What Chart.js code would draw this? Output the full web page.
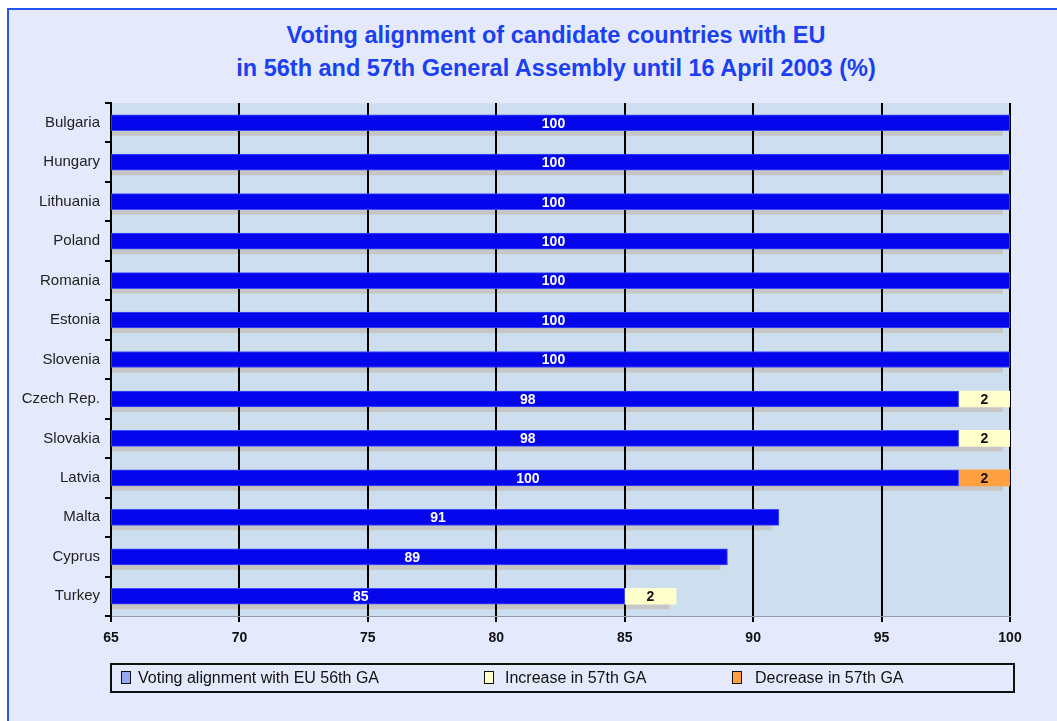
<!DOCTYPE html>
<html><head><meta charset="utf-8">
<script src="https://cdn.jsdelivr.net/npm/chart.js@4.4.0/dist/chart.umd.min.js"></script>
<style>
html,body{margin:0;padding:0;background:#fff;width:1057px;height:721px;overflow:hidden;font-family:"Liberation Sans",Arial,Helvetica,sans-serif;}
#frame{position:absolute;left:7px;top:8px;width:1060px;height:720px;background:#e4eafc;border-top:2px solid #2552f2;border-left:2px solid #2552f2;}
#title{position:absolute;left:0;width:1112px;top:19px;text-align:center;color:#1b3ff2;font-weight:bold;font-size:23.5px;line-height:33px;}
#chart{position:absolute;left:0;top:0;}
#legend{position:absolute;left:110px;top:663px;width:901px;height:26px;border:2px solid #111;}
.sq{position:absolute;top:6px;width:8px;height:11px;border:1.5px solid #111;}
.tx{position:absolute;top:0;line-height:26px;font-size:16px;color:#111;white-space:nowrap;}
</style></head>
<body>
<div id="frame"></div>
<div id="title">Voting alignment of candidate countries with EU<br>in 56th and 57th General Assembly until 16 April 2003 (%)</div>
<canvas id="chart" width="1057" height="721"></canvas>
<div id="legend"></div>
<script>
const categories = ["Bulgaria","Hungary","Lithuania","Poland","Romania","Estonia","Slovenia","Czech Rep.","Slovakia","Latvia","Malta","Cyprus","Turkey"];
const ga56 = [100,100,100,100,100,100,100,98,98,100,91,89,85];
const increase57 = [0,0,0,0,0,0,0,2,2,0,0,0,2];
const decrease57 = [0,0,0,0,0,0,0,0,0,2,0,0,0];
const xTicks = [65,70,75,80,85,90,95,100];
const seriesNames = ["Voting alignment with EU 56th GA","Increase in 57th GA","Decrease in 57th GA"];

const AXIS_MIN = xTicks[0], AXIS_MAX = xTicks[xTicks.length-1];
const blueData = ga56.map((v,i)=>[AXIS_MIN, v - decrease57[i]]);
const incData = ga56.map((v,i)=>increase57[i] ? [v, v + increase57[i]] : null);
const decData = ga56.map((v,i)=>decrease57[i] ? [v - decrease57[i], v] : null);
const labelValues = [ga56, increase57, decrease57];

const bgPlugin = {
  id:'bgShadow',
  beforeDraw(chart){
    const {ctx, chartArea:a} = chart;
    ctx.save();
    ctx.fillStyle = '#cddeee';
    ctx.fillRect(a.left, a.top, a.right-a.left, a.bottom-a.top);
    ctx.beginPath(); ctx.rect(a.left, a.top, a.right-a.left, a.bottom-a.top); ctx.clip();
    ctx.fillStyle = '#c6c6c6';
    categories.forEach((c,i)=>{
      let maxX = null, top = null, h = null;
      chart.data.datasets.forEach((ds,d)=>{
        if (ds.data[i] == null) return;
        const el = chart.getDatasetMeta(d).data[i];
        const p = el.getProps(['x','y','height'], true);
        if (maxX === null || p.x > maxX) maxX = p.x;
        top = p.y - p.height/2; h = p.height;
      });
      if (maxX !== null) ctx.fillRect(a.left, top + 5, maxX - 7 - a.left, h);
    });
    ctx.restore();
  }
};

const labelPlugin = {
  id:'barLabels',
  afterDatasetsDraw(chart){
    const ctx = chart.ctx;
    ctx.save();
    ctx.font = 'bold 14px "Liberation Sans", Arial, sans-serif';
    ctx.textAlign = 'center'; ctx.textBaseline = 'middle';
    chart.data.datasets.forEach((ds,d)=>{
      chart.getDatasetMeta(d).data.forEach((el,i)=>{
        if (ds.data[i] == null) return;
        const p = el.getProps(['x','y','base'], true);
        const mid = (p.x + p.base)/2;
        if (d === 0){ ctx.fillStyle = '#ffffff'; ctx.fillText(String(labelValues[0][i]), mid - 7, p.y + 1); }
        else { ctx.fillStyle = '#111111'; ctx.fillText(String(labelValues[d][i]), mid, p.y + 1); }
      });
    });
    ctx.restore();
  }
};

new Chart(document.getElementById('chart'), {
  type:'bar',
  data:{
    labels: categories,
    datasets:[
      {label:seriesNames[0], data:blueData, backgroundColor:'#0606ec', borderColor:'#3d4cff', borderWidth:1, borderSkipped:false, barThickness:16},
      {label:seriesNames[1], data:incData, backgroundColor:'#ffffcc', borderWidth:0, barThickness:16},
      {label:seriesNames[2], data:decData, backgroundColor:'#ffa040', borderWidth:0, barThickness:16}
    ]
  },
  options:{
    indexAxis:'y',
    responsive:false,
    animation:false,
    devicePixelRatio:1,
    layout:{padding:{top:103,left:0,right:47,bottom:65}},
    plugins:{legend:{display:false}, title:{display:false}, tooltip:{enabled:false}},
    scales:{
      x:{
        type:'linear', min:AXIS_MIN, max:AXIS_MAX, stacked:false,
        afterBuildTicks(s){ s.ticks = xTicks.map(v=>({value:v})); },
        afterFit(s){ s.height = 40; },
        grid:{color:'#000', lineWidth:2, tickLength:6, drawTicks:true},
        border:{color:'#8a9bb0', width:1},
        ticks:{color:'#111', font:{family:'"Liberation Sans", Arial, sans-serif', size:14, weight:'bold'}, padding:8, autoSkip:false, maxRotation:0}
      },
      y:{
        type:'category', stacked:true,
        afterFit(s){ s.width = 111; },
        grid:{offset:true, drawOnChartArea:false, drawTicks:true, tickLength:6, color:'#000', lineWidth:2},
        border:{color:'#000', width:2},
        ticks:{color:'#222', font:{family:'"Liberation Sans", Arial, sans-serif', size:15}, padding:5, autoSkip:false}
      }
    }
  },
  plugins:[bgPlugin, labelPlugin]
});

// legend (HTML)
const legendColors = ['#99a8f4','#ffffcc','#ffa040'];
const legendPos = [[9,26],[372,393],[620,643]];
const lg = document.getElementById('legend');
seriesNames.forEach((n,i)=>{
  const sq = document.createElement('div'); sq.className='sq'; sq.style.left = legendPos[i][0]+'px'; sq.style.background = legendColors[i];
  const tx = document.createElement('div'); tx.className='tx'; tx.style.left = legendPos[i][1]+'px'; tx.textContent = n;
  lg.appendChild(sq); lg.appendChild(tx);
});
</script>
</body></html>
